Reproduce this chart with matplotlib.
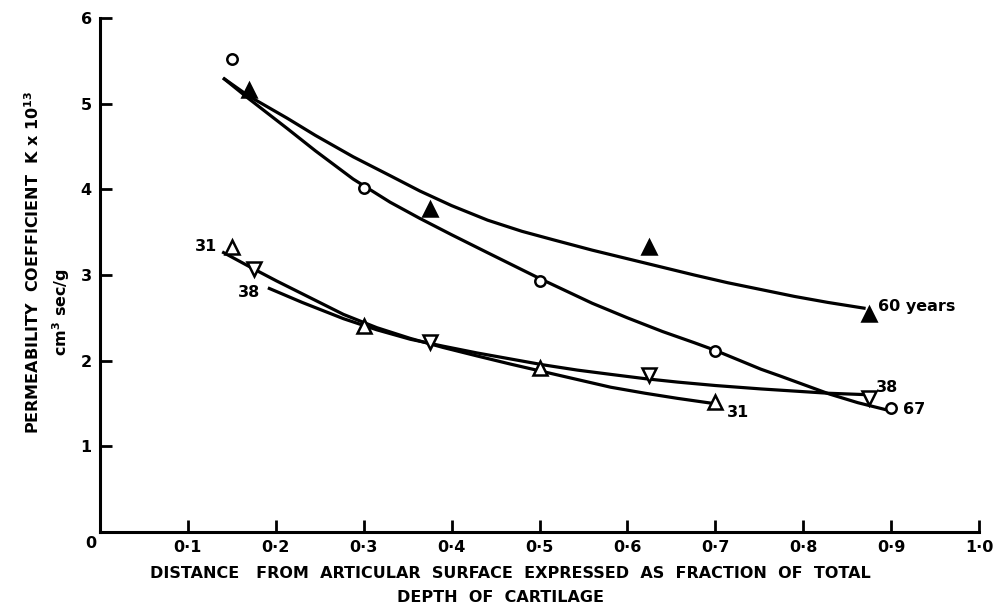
import matplotlib
matplotlib.use("Agg")
import matplotlib.pyplot as plt

# ---- data ----
# measured points
x67 = [0.15, 0.30, 0.50, 0.70, 0.90]
y67 = [5.52, 4.02, 2.93, 2.11, 1.45]
x60 = [0.17, 0.375, 0.625, 0.875]
y60 = [5.16, 3.77, 3.33, 2.54]
x31 = [0.15, 0.30, 0.50, 0.70]
y31 = [3.33, 2.40, 1.91, 1.52]
x38 = [0.175, 0.375, 0.625, 0.875]
y38 = [3.07, 2.22, 1.83, 1.56]

# hand-drawn fitted curves
c60x = [0.140, 0.169, 0.213, 0.245, 0.288, 0.330, 0.364, 0.400, 0.441, 0.480,
        0.516, 0.560, 0.600, 0.640, 0.676, 0.714, 0.752, 0.790, 0.828, 0.871]
c60y = [5.30, 5.09, 4.83, 4.63, 4.38, 4.16, 3.98, 3.81, 3.64, 3.51,
        3.41, 3.29, 3.19, 3.09, 3.00, 2.91, 2.83, 2.75, 2.68, 2.61]
c67x = [0.140, 0.169, 0.213, 0.245, 0.288, 0.330, 0.364, 0.400, 0.441, 0.500,
        0.560, 0.600, 0.640, 0.676, 0.700, 0.752, 0.774, 0.830, 0.862, 0.897]
c67y = [5.30, 5.06, 4.71, 4.45, 4.12, 3.85, 3.66, 3.47, 3.26, 2.96,
        2.67, 2.50, 2.34, 2.21, 2.12, 1.90, 1.82, 1.61, 1.51, 1.42]
c31x = [0.139, 0.175, 0.201, 0.240, 0.277, 0.315, 0.353, 0.390, 0.429, 0.467,
        0.505, 0.543, 0.581, 0.620, 0.657, 0.698]
c31y = [3.27, 3.07, 2.93, 2.73, 2.54, 2.385, 2.26, 2.155, 2.055, 1.96,
        1.87, 1.78, 1.69, 1.62, 1.56, 1.50]
c38x = [0.191, 0.230, 0.277, 0.315, 0.353, 0.390, 0.429, 0.467, 0.505, 0.543,
        0.581, 0.620, 0.657, 0.700, 0.752, 0.790, 0.828, 0.880]
c38y = [2.85, 2.68, 2.49, 2.36, 2.25, 2.17, 2.09, 2.02, 1.95, 1.89,
        1.84, 1.79, 1.75, 1.71, 1.67, 1.645, 1.62, 1.60]

xticks = [0.1, 0.2, 0.3, 0.4, 0.5, 0.6, 0.7, 0.8, 0.9, 1.0]
xtick_labels = ["0·1", "0·2", "0·3", "0·4", "0·5", "0·6", "0·7", "0·8", "0·9", "1·0"]
yticks = [1, 2, 3, 4, 5, 6]
ytick_labels = ["1", "2", "3", "4", "5", "6"]

plt.rcParams['font.family'] = ['DejaVu Sans']

fig = plt.figure(figsize=(9.97, 6.07), dpi=100)
ax = fig.add_axes([100/997, 1-532/607, (979-100)/997, (532-18)/607])
ax.set_xlim(0, 1.0)
ax.set_ylim(0, 6)

lw = 2.3
for cx, cy in [(c60x, c60y), (c67x, c67y), (c31x, c31y), (c38x, c38y)]:
    ax.plot(cx, cy, color='black', lw=lw, solid_capstyle='butt',
            solid_joinstyle='round', zorder=2)

mew = 1.8
ax.plot(x67, y67, linestyle='none', marker='o', ms=7.5, mfc='white', mec='black', mew=mew, zorder=3)
ax.plot(x60, y60, linestyle='none', marker='^', ms=9.5, mfc='black', mec='black', mew=mew, zorder=3)
ax.plot(x31, y31, linestyle='none', marker='^', ms=9.5, mfc='white', mec='black', mew=mew, zorder=3)
ax.plot(x38, y38, linestyle='none', marker='v', ms=9.5, mfc='white', mec='black', mew=mew, zorder=3)

tfont = dict(fontsize=11.5, fontweight='bold', color='black')
ax.text(0.133, 3.33, "31", ha='right', va='center', **tfont)
ax.text(0.182, 2.80, "38", ha='right', va='center', **tfont)
ax.text(0.885, 2.63, "60 years", ha='left', va='center', **tfont)
ax.text(0.883, 1.69, "38", ha='left', va='center', **tfont)
ax.text(0.913, 1.43, "67", ha='left', va='center', **tfont)
ax.text(0.713, 1.39, "31", ha='left', va='center', **tfont)

for s in ['top', 'right']:
    ax.spines[s].set_visible(False)
for s in ['left', 'bottom']:
    ax.spines[s].set_linewidth(2.2)

ax.set_xticks(xticks)
ax.set_xticklabels(xtick_labels)
ax.set_yticks(yticks)
ax.set_yticklabels(ytick_labels)
ax.tick_params(axis='both', direction='in', length=8.5, width=2.0, labelsize=11.5, pad=6)
for lab in ax.get_xticklabels() + ax.get_yticklabels():
    lab.set_fontweight('bold')

ax.text(-0.004, -0.05, "0", ha='right', va='top', transform=ax.transData, **tfont)

fig.text(510/997, 1-573/607, "DISTANCE   FROM  ARTICULAR  SURFACE  EXPRESSED  AS  FRACTION  OF  TOTAL",
         ha='center', va='center', **tfont)
fig.text(500/997, 1-597/607, "DEPTH  OF  CARTILAGE", ha='center', va='center', **tfont)

fig.text(33/997, 1-262/607, r"PERMEABILITY  COEFFICIENT  K x 10$^{\mathbf{13}}$", rotation=90,
         ha='center', va='center', **tfont)
fig.text(61/997, 1-312/607, r"cm$^{\mathbf{3}}$ sec/g", rotation=90,
         ha='center', va='center', **tfont)

fig.savefig("out.png", dpi=100)
